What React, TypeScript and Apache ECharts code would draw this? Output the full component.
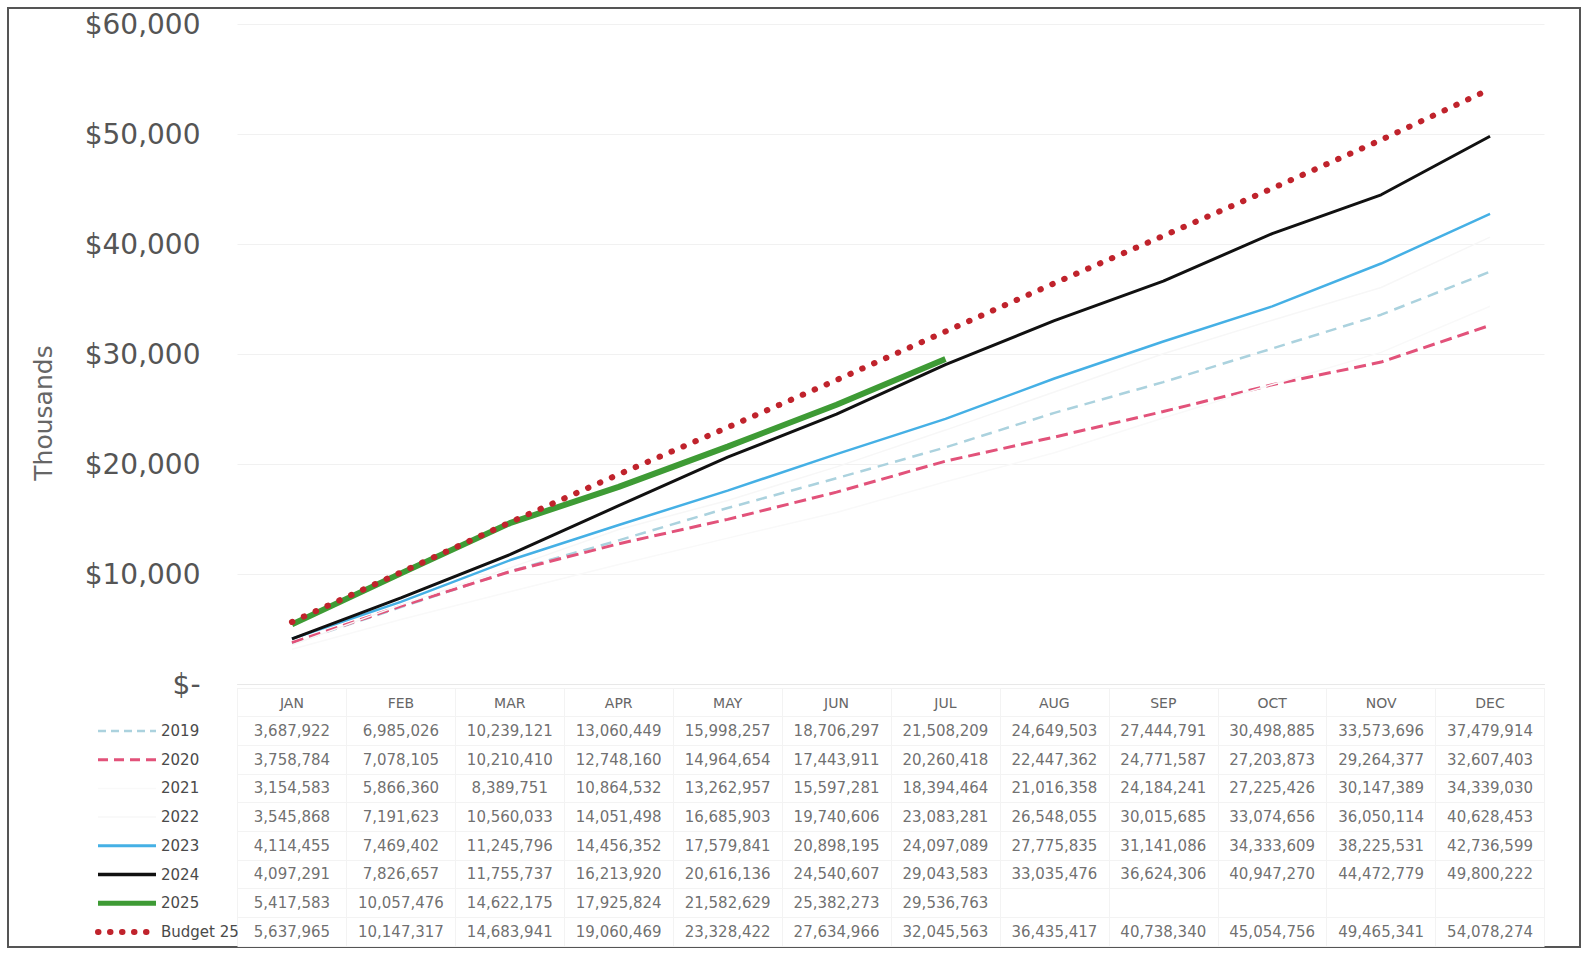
import React, { useEffect, useRef } from "react";
import * as echarts from "echarts";

const months = ["JAN", "FEB", "MAR", "APR", "MAY", "JUN", "JUL", "AUG", "SEP", "OCT", "NOV", "DEC"];
const seriesNames = ["2019", "2020", "2021", "2022", "2023", "2024", "2025", "Budget 25"];

const v2019 = [3687922, 6985026, 10239121, 13060449, 15998257, 18706297, 21508209, 24649503, 27444791, 30498885, 33573696, 37479914];
const v2020 = [3758784, 7078105, 10210410, 12748160, 14964654, 17443911, 20260418, 22447362, 24771587, 27203873, 29264377, 32607403];
const v2021 = [3154583, 5866360, 8389751, 10864532, 13262957, 15597281, 18394464, 21016358, 24184241, 27225426, 30147389, 34339030];
const v2022 = [3545868, 7191623, 10560033, 14051498, 16685903, 19740606, 23083281, 26548055, 30015685, 33074656, 36050114, 40628453];
const v2023 = [4114455, 7469402, 11245796, 14456352, 17579841, 20898195, 24097089, 27775835, 31141086, 34333609, 38225531, 42736599];
const v2024 = [4097291, 7826657, 11755737, 16213920, 20616136, 24540607, 29043583, 33035476, 36624306, 40947270, 44472779, 49800222];
const v2025 = [5417583, 10057476, 14622175, 17925824, 21582629, 25382273, 29536763, null, null, null, null, null];
const vBudget = [5637965, 10147317, 14683941, 19060469, 23328422, 27634966, 32045563, 36435417, 40738340, 45054756, 49465341, 54078274];

const allValues = [v2019, v2020, v2021, v2022, v2023, v2024, v2025, vBudget];

const yTicks = { min: 0, max: 60000000, interval: 10000000 };

const lineStyles: any[] = [
  { color: "#abd2de", width: 2.5, type: [11, 7] },
  { color: "#e2527a", width: 3, type: [12, 6] },
  { color: "#f9f9f9", width: 1.5, type: "solid" },
  { color: "#f7f7f7", width: 1.5, type: "solid" },
  { color: "#45b0e5", width: 2.5, type: "solid" },
  { color: "#111111", width: 3, type: "solid" },
  { color: "#3e9b35", width: 6, type: "solid" },
  { color: "#c0232c", width: 6, type: [0.5, 12.5], cap: "round" },
];

const legendLineStyles: any[] = [
  { width: 2.5, type: [8, 5] },
  { width: 3, type: [10, 6] },
  { width: 1.5 },
  { width: 1.5 },
  { width: 3 },
  { width: 3.5 },
  { width: 5 },
  { width: 6, type: [0.5, 11.5], cap: "round" },
];

const fmt = (v: number | null) => (v == null ? "" : v.toLocaleString("en-US"));

export default function App() {
  const ref = useRef<HTMLDivElement>(null);
  useEffect(() => {
    if (!ref.current) return;
    const chart = echarts.init(ref.current, undefined, { renderer: "svg" });
    const rowCats = ["hdr", ...seriesNames];
    const tableData: any[] = [];
    allValues.forEach((arr, r) => {
      arr.forEach((v, i) => {
        if (v != null) tableData.push([i, seriesNames[r], v]);
      });
    });
    const lineSeries = seriesNames.map((name, idx) => ({
      name,
      type: "line",
      xAxisIndex: 0,
      yAxisIndex: 0,
      data: allValues[idx],
      symbol: "none",
      showSymbol: false,
      connectNulls: false,
      lineStyle: { ...lineStyles[idx] },
      itemStyle: { color: lineStyles[idx].color },
      z: 2 + idx,
    }));
    const option: any = {
      animation: false,
      backgroundColor: "#ffffff",
      grid: [
        { left: 237.5, right: 41.5, top: 24, bottom: 954 - 684, containLabel: false },
        { left: 237.5, right: 41.5, top: 688, bottom: 8, containLabel: false },
      ],
      xAxis: [
        {
          type: "category",
          gridIndex: 0,
          data: months,
          boundaryGap: true,
          axisLine: { show: true, lineStyle: { color: "#e8e8e8", width: 1 } },
          axisTick: { show: false },
          axisLabel: { margin: 12, fontSize: 14, color: "#666", fontFamily: "DejaVu Sans", interval: 0 },
          splitLine: { show: false },
        },
        {
          type: "category",
          gridIndex: 1,
          data: months,
          boundaryGap: true,
          axisLine: { show: false },
          axisTick: { show: false },
          axisLabel: { show: false },
          splitLine: { show: true, interval: 0, lineStyle: { color: "#f3f3f3", width: 1 } },
        },
      ],
      yAxis: [
        {
          type: "value",
          gridIndex: 0,
          min: yTicks.min,
          max: yTicks.max,
          interval: yTicks.interval,
          axisLine: { show: false },
          axisTick: { show: false },
          axisLabel: {
            margin: 37,
            fontSize: 28,
            color: "#555",
            fontFamily: "DejaVu Sans",
            formatter: (v: number) => (v === 0 ? "$-" : "$" + (v / 1000).toLocaleString("en-US")),
          },
          splitLine: { show: true, lineStyle: { color: "#f1f1f1", width: 1 } },
        },
        {
          type: "category",
          gridIndex: 1,
          data: rowCats,
          inverse: true,
          boundaryGap: true,
          axisLine: { show: false },
          axisTick: { show: false },
          axisLabel: { show: false },
          splitLine: { show: true, interval: 0, lineStyle: { color: "#f3f3f3", width: 1 } },
        },
      ],
      legend: {
        data: seriesNames.map((n, i) => ({ name: n, lineStyle: legendLineStyles[i] })),
        orient: "vertical",
        left: 95,
        top: 722,
        padding: 0,
        itemWidth: 58,
        itemHeight: 18,
        itemGap: 10.7,
        selectedMode: false,
        itemStyle: { opacity: 0, borderWidth: 0 },
        textStyle: { fontSize: 15, color: "#4a4a4a", fontFamily: "DejaVu Sans", lineHeight: 18 },
      },
      series: [
        ...lineSeries,
        {
          name: "table",
          type: "scatter",
          xAxisIndex: 1,
          yAxisIndex: 1,
          data: tableData,
          symbolSize: 1,
          itemStyle: { color: "rgba(0,0,0,0)" },
          label: {
            show: true,
            position: "inside",
            fontSize: 15,
            fontFamily: "DejaVu Sans",
            color: "#4a4a4a",
            formatter: (p: any) => fmt(p.value[2]),
          },
          silent: true,
          z: 1,
        },
      ],
      graphic: [
        {
          type: "rect",
          shape: { x: 8, y: 8, width: 1572, height: 939 },
          style: { fill: "none", stroke: "#555", lineWidth: 2 },
          silent: true,
        },
        {
          type: "text",
          x: 43,
          y: 413,
          rotation: Math.PI / 2,
          style: {
            text: "Thousands",
            fontSize: 25,
            fontFamily: "DejaVu Sans",
            fill: "#666",
            align: "center",
            verticalAlign: "middle",
          },
        },
      ],
    };
    chart.setOption(option);
    return () => chart.dispose();
  }, []);
  return (
    <div
      ref={ref}
      style={{ position: "absolute", left: 0, top: 0, width: "1586px", height: "954px" }}
    />
  );
}
